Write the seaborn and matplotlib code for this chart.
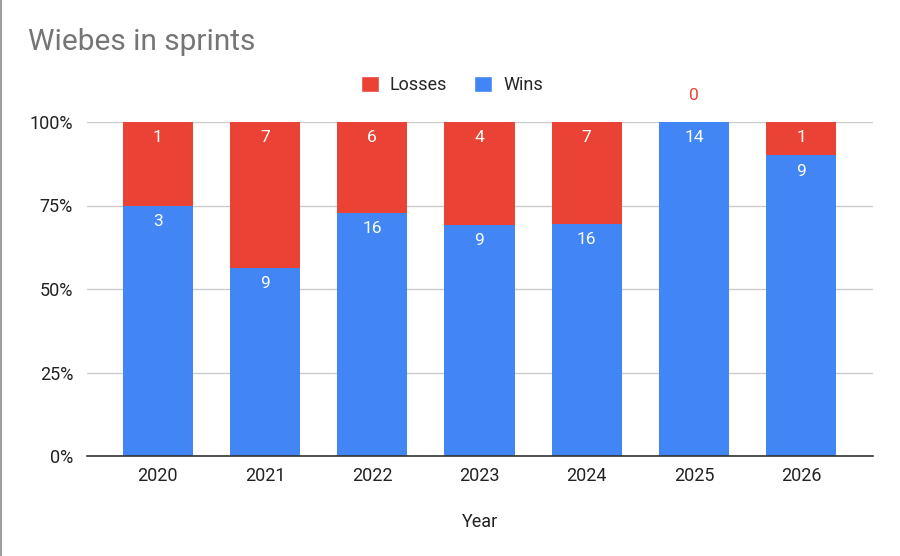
import numpy as np
import pandas as pd
import matplotlib.pyplot as plt
import seaborn as sns
from matplotlib.lines import Line2D
from matplotlib.patches import Patch

years = ['2020', '2021', '2022', '2023', '2024', '2025', '2026']
wins = [3, 9, 16, 9, 16, 14, 9]
losses = [1, 7, 6, 4, 7, 0, 1]

blue = '#4285f4'
red = '#ea4335'

sns.set_style('white')
plt.rcParams['font.family'] = ['Roboto', 'DejaVu Sans']

df = pd.DataFrame({'Year': years, 'Wins': wins, 'Losses': losses})
total = df['Wins'] + df['Losses']
df['win_pct'] = df['Wins'] / total * 100
df['loss_pct'] = df['Losses'] / total * 100

fig = plt.figure(figsize=(9, 5.56), dpi=100)
ax = fig.add_axes([87 / 900, 1 - 456 / 556, 786 / 900, 334 / 556])

sns.barplot(data=df, x='Year', y='win_pct', color=blue, width=0.655,
            saturation=1, linewidth=0, ax=ax, zorder=3)
sns.barplot(data=df, x='Year', y='loss_pct', bottom=df['win_pct'], color=red,
            width=0.655, saturation=1, linewidth=0, ax=ax, zorder=3)

# value labels
for i, row in df.iterrows():
    ax.annotate(str(row['Wins']), (i, row['win_pct']), xytext=(0, -6),
                textcoords='offset points', ha='center', va='top',
                color='white', fontsize=12.5, zorder=4)
    if row['Losses'] > 0:
        ax.annotate(str(row['Losses']), (i, 100), xytext=(0, -6),
                    textcoords='offset points', ha='center', va='top',
                    color='white', fontsize=12.5, zorder=4)
    else:
        ax.annotate('0', (i, 100), xytext=(0, 14),
                    textcoords='offset points', ha='center', va='bottom',
                    color=red, fontsize=12.5, zorder=4)

ax.set_xlim(-0.66, 6.67)
ax.set_ylim(0, 100)
ax.set_yticks([0, 25, 50, 75, 100])
ax.set_yticklabels(['0%', '25%', '50%', '75%', '100%'])
ax.yaxis.grid(True, color='#cccccc', linewidth=1, zorder=0)
ax.set_axisbelow(True)
for s in ['top', 'right', 'left']:
    ax.spines[s].set_visible(False)
ax.spines['bottom'].set_color('#333333')
ax.spines['bottom'].set_linewidth(1.2)
ax.spines['bottom'].set_zorder(5)
ax.tick_params(axis='both', length=0, labelsize=13, colors='#222222')
ax.tick_params(axis='x', pad=8)
ax.tick_params(axis='y', pad=10)
ax.set_ylabel('')
ax.set_xlabel('Year', fontsize=13, color='#222222', labelpad=20)

fig.text(28 / 900, 1 - 42 / 556, 'Wiebes in sprints', fontsize=21.5,
         color='#757575', va='center', ha='left')

handles = [Patch(facecolor=red, label='Losses'), Patch(facecolor=blue, label='Wins')]
fig.legend(handles=handles, loc='center', bbox_to_anchor=(452 / 900, 1 - 85 / 556),
           ncol=2, frameon=False, fontsize=13, handlelength=1.0, handleheight=1.0,
           handletextpad=0.6, columnspacing=1.5)

# left border of the chart card
fig.add_artist(Line2D([0.001, 0.001], [0, 1], transform=fig.transFigure,
                      color='#9e9e9e', linewidth=1.5))

fig.savefig('out.png', dpi=100)
